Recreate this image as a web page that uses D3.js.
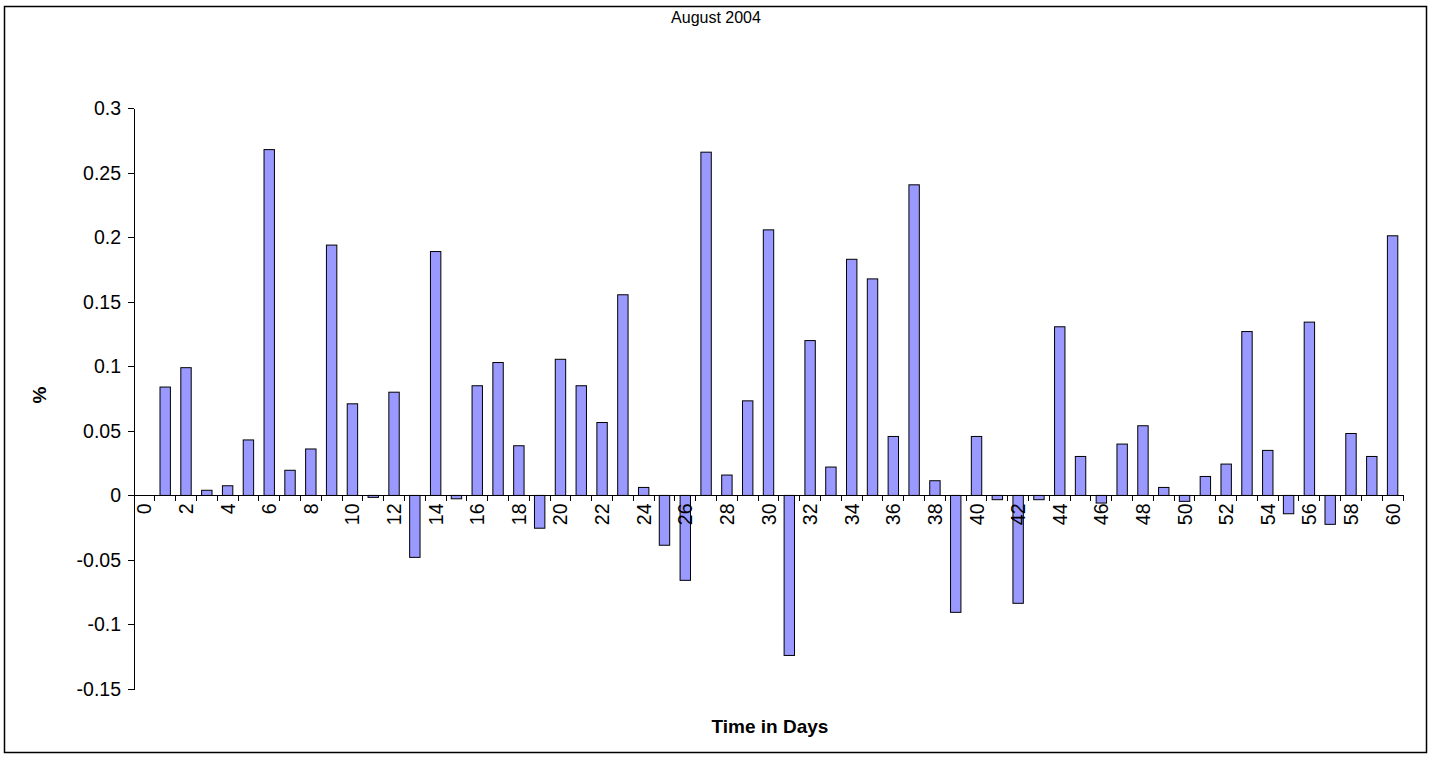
<!DOCTYPE html>
<html>
<head>
    <meta charset="UTF-8">
    <title>August 2004</title>
    <script src="https://d3js.org/d3.v7.min.js"></script>
    <style type="text/css">
        body { margin: 0; background: #fff; }
        text { font-family: "Liberation Sans", Arial, sans-serif; fill: #000; }
        .bar { fill: #9999ff; stroke: #000; stroke-width: 1px; }
        .axis path, .axis line { stroke: #000; stroke-width: 1px; shape-rendering: crispEdges; }
    </style>
</head>
<body>
<script type="text/javascript">
    // days 0..60 and daily change in %
    var days = d3.range(0, 61);
    var values = [
        0, 0.084, 0.099, 0.004, 0.0075, 0.043, 0.268, 0.0195, 0.036, 0.194,
        0.071, -0.0015, 0.080, -0.048, 0.189, -0.0026, 0.085, 0.103, 0.0385, -0.0254,
        0.1055, 0.085, 0.0565, 0.1555, 0.0062, -0.0386, -0.0658, 0.266, 0.0158, 0.0733,
        0.2058, -0.124, 0.120, 0.022, 0.183, 0.1678, 0.0457, 0.2407, 0.0114, -0.0906,
        0.0457, -0.0033, -0.0836, -0.0033, 0.1307, 0.0302, -0.0059, 0.0398, 0.054, 0.0062,
        -0.0046, 0.0147, 0.0243, 0.127, 0.0349, -0.0142, 0.1343, -0.0224, 0.048, 0.0302,
        0.2012
    ];
    var yTicks = [-0.15, -0.1, -0.05, 0, 0.05, 0.1, 0.15, 0.2, 0.25, 0.3];
    var xLabels = days.filter(function(d){ return d % 2 === 0; });

    var data = days.map(function(d, i){ return {day: d, value: values[i]}; });

    var width = 1433,
        height = 759,
        plotLeft = 134,
        plotRight = 1403,
        plotTop = 108.3,
        plotBottom = 689;

    var x = d3.scaleBand()
        .domain(days)
        .range([plotLeft, plotRight])
        .padding(0);

    var y = d3.scaleLinear()
        .domain([-0.15, 0.3])
        .range([plotBottom, plotTop]);

    var svg = d3.select("body").append("svg")
        .attr("width", width)
        .attr("height", height);

    // chart frame
    svg.append("rect")
        .attr("x", 4.5).attr("y", 6.5)
        .attr("width", 1422).attr("height", 746)
        .attr("fill", "#fff")
        .attr("stroke", "#000")
        .attr("stroke-width", 1.5);

    svg.append("text")
        .attr("x", 716).attr("y", 23)
        .attr("text-anchor", "middle")
        .style("font-size", "16px")
        .text("August 2004");

    renderBars();
    renderAxes();

    function renderBars(){
        var bw = x.bandwidth();
        svg.append("g").selectAll("rect")
            .data(data.filter(function(d){ return d.value !== 0; }))
          .enter().append("rect")
            .attr("class", "bar")
            .attr("x", function(d){ return x(d.day) + bw / 4; })
            .attr("width", bw / 2)
            .attr("y", function(d){ return y(Math.max(0, d.value)); })
            .attr("height", function(d){ return Math.abs(y(d.value) - y(0)); });
    }

    function renderAxes(){
        var yAxis = d3.axisLeft(y)
            .tickValues(yTicks)
            .tickSize(6)
            .tickSizeOuter(0)
            .tickFormat(function(d){ return String(+d.toFixed(2)); });

        var gy = svg.append("g")
            .attr("class", "axis")
            .attr("transform", "translate(" + plotLeft + ",0)")
            .call(yAxis);
        gy.selectAll("text")
            .attr("x", -13)
            .style("font-size", "19.5px");

        // category axis: line at zero, ticks between categories
        var gx = svg.append("g").attr("class", "axis");
        gx.append("line")
            .attr("x1", plotLeft).attr("x2", plotRight)
            .attr("y1", y(0)).attr("y2", y(0));
        gx.selectAll("line.tick")
            .data(days)
          .enter().append("line")
            .attr("class", "tick")
            .attr("x1", function(d){ return x(d) + x.bandwidth(); })
            .attr("x2", function(d){ return x(d) + x.bandwidth(); })
            .attr("y1", y(0)).attr("y2", y(0) + 6);
        gx.selectAll("text")
            .data(xLabels)
          .enter().append("text")
            .attr("transform", function(d){
                return "translate(" + (x(d) + x.bandwidth() / 2 + 7) + "," + (y(0) + 8) + ") rotate(-90)";
            })
            .attr("text-anchor", "end")
            .style("font-size", "19.5px")
            .text(function(d){ return d; });

        svg.append("text")
            .attr("x", 770).attr("y", 733)
            .attr("text-anchor", "middle")
            .style("font-size", "19px")
            .style("font-weight", "bold")
            .text("Time in Days");

        svg.append("text")
            .attr("transform", "translate(46,395) rotate(-90)")
            .attr("text-anchor", "middle")
            .style("font-size", "19px")
            .style("font-weight", "bold")
            .text("%");
    }
</script>
</body>
</html>
